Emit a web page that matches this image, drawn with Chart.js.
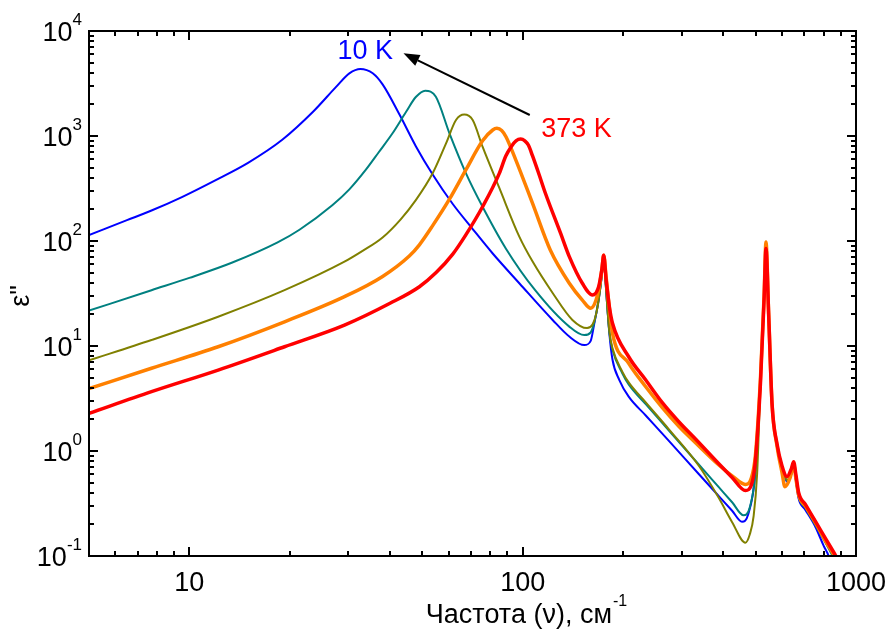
<!DOCTYPE html>
<html>
<head>
  <title>Диэлектрические потери</title>
  <style>
    body {
      margin: 0;
      padding: 0;
      background-color: #fff;
    }
    canvas {
      display: block;
    }
  </style>
</head>
<body>
  <canvas id="eps-chart" width="889" height="629"></canvas>

  <script src="https://cdn.jsdelivr.net/npm/chart.js"></script>
  <script>
    // eps'' spectra, frequency in cm^-1
    const nu10K = [5, 6.5, 7.7, 9.5, 12, 15, 19, 23.5, 27.6, 30.2, 32.6, 35.5, 38, 42.7, 47.8, 53.7, 61.7, 70.8, 81.3, 97.7, 123, 138, 153, 160, 164, 169, 173, 175, 178, 182, 186, 195, 208, 234, 275, 338, 387, 425, 455, 475, 499, 517, 530, 537, 547, 560, 580, 600, 621, 640, 650, 660, 673, 705, 755, 800, 828, 845];
    const eps10K = [114, 158, 195, 262, 380, 555, 920, 1700, 2950, 3950, 4350, 3955, 3100, 1600, 800, 430, 225, 130, 76, 39.6, 17.7, 12.3, 10.2, 11.2, 16.4, 27.4, 49, 73, 34, 13.2, 7.4, 4.74, 3.29, 2.18, 1.24, 0.6, 0.374, 0.27, 0.212, 0.25, 0.62, 4.5, 29, 90, 20, 2.8, 1.15, 0.72, 0.51, 0.6, 0.72, 0.52, 0.35, 0.275, 0.19, 0.125, 0.1, 0.08];

    const nuT2 = [5, 7.7, 10, 13.4, 18.4, 21.4, 26.9, 30.2, 33.9, 37, 40.7, 44.7, 47.8, 51, 54.9, 60.3, 67.6, 75.8, 89, 109, 138, 153, 160, 164, 169, 173, 175, 178, 182, 186, 199, 208, 234, 275, 338, 387, 425, 460, 480, 499, 517, 530, 537, 547, 560, 580, 600, 621, 640, 650, 660, 673, 705, 755, 809, 850, 870];
    const epsT2 = [21.7, 34, 44.5, 62, 97, 128, 220, 310, 480, 700, 1061, 1700, 2350, 2700, 2366, 1061, 441, 212, 85, 34, 15.3, 12.7, 13.5, 16.8, 28, 49, 73, 34, 13.5, 9.2, 5.5, 4.3, 2.79, 1.56, 0.74, 0.455, 0.325, 0.244, 0.29, 0.62, 4.5, 29, 92, 20, 2.8, 1.15, 0.72, 0.52, 0.62, 0.75, 0.54, 0.367, 0.29, 0.2, 0.135, 0.1, 0.085];

    const nuT3 = [5, 7.7, 12.2, 19.3, 29.2, 33, 38, 43, 47.8, 53.7, 58.9, 63.1, 66.8, 70.8, 75.8, 85.1, 97.7, 107, 123, 141, 156, 162, 166, 170, 173, 175, 178, 182, 186, 199, 208, 234, 275, 338, 387, 425, 466, 480, 493, 505, 517, 530, 537, 547, 560, 580, 600, 621, 640, 650, 660, 673, 705, 755, 809, 855, 875];
    const epsT3 = [7.3, 11.4, 19, 34, 63.5, 80, 108, 160, 245, 441, 850, 1419, 1600, 1419, 791, 320, 110, 64, 32, 17.7, 14.8, 16, 20, 31, 50, 73, 34, 13.8, 9.5, 5.7, 4.5, 2.9, 1.6, 0.72, 0.36, 0.21, 0.134, 0.16, 0.24, 0.6, 4.5, 29, 95, 20, 2.8, 1.15, 0.72, 0.53, 0.63, 0.76, 0.55, 0.37, 0.29, 0.2, 0.136, 0.1, 0.085];

    const nuT4 = [5, 7.7, 12.2, 19.3, 29.2, 38, 45.7, 49, 53.7, 60.3, 67.6, 75.8, 81.3, 83.7, 86.5, 89.1, 95.4, 107, 121, 138, 151, 160, 166, 170, 173, 175, 178, 182, 186, 208, 234, 262, 294, 330, 387, 425, 466, 485, 499, 517, 530, 537, 547, 560, 580, 600, 612, 635, 650, 660, 673, 705, 755, 809, 862, 880];
    const epsT4 = [3.93, 6.14, 9.84, 17, 29.5, 46, 72, 92, 140, 250, 478, 900, 1141, 1184, 1130, 984, 590, 229, 82, 39.6, 27.4, 22.9, 27.4, 38, 55, 73, 45, 23, 13.2, 6.84, 4.09, 2.6, 1.72, 1.2, 0.74, 0.58, 0.48, 0.55, 0.9, 5, 30, 98, 20, 2.8, 1.1, 0.62, 0.457, 0.56, 0.75, 0.55, 0.38, 0.3, 0.21, 0.14, 0.1, 0.085];

    const nu373K = [5, 7.7, 12.2, 19.3, 29.2, 40, 49, 55, 61.7, 67.6, 75.8, 85.1, 89, 92.6, 95.5, 98.6, 101.5, 104, 107, 112, 117, 130, 138, 151, 162, 169, 173, 175, 178, 182, 186, 208, 234, 262, 294, 330, 387, 425, 466, 485, 499, 517, 530, 537, 547, 560, 580, 600, 621, 640, 650, 660, 673, 705, 755, 809, 870, 895];
    const eps373K = [2.28, 3.67, 5.9, 9.84, 15.8, 25.5, 36.7, 50, 75, 115, 212, 441, 645, 800, 900, 936, 900, 820, 650, 430, 285, 118, 71, 39.6, 30.6, 36.7, 55, 73, 42.5, 23.7, 16.5, 7.9, 4.74, 2.9, 1.9, 1.3, 0.76, 0.56, 0.42, 0.47, 0.8, 4.5, 28, 85, 20, 2.8, 1.15, 0.72, 0.57, 0.68, 0.79, 0.6, 0.4, 0.31, 0.215, 0.148, 0.1, 0.085];

    const xTickLabels = [10, 100, 1000];
    const yTickExponents = [-1, 0, 1, 2, 3, 4];

    const curves = [
      { nu: nu10K, eps: eps10K, color: '#0000ff', width: 2 },
      { nu: nuT2, eps: epsT2, color: '#008080', width: 2 },
      { nu: nuT3, eps: epsT3, color: '#808000', width: 2 },
      { nu: nuT4, eps: epsT4, color: '#ff8000', width: 3.5 },
      { nu: nu373K, eps: eps373K, color: '#ff0000', width: 3.5 }
    ];

    const FONT = '"Liberation Sans", Arial, sans-serif';

    // frame, inward ticks, labels and the temperature arrow
    const framePlugin = {
      id: 'frame',
      afterDatasetsDraw(chart) {
        const { ctx, chartArea: a, scales: { x, y } } = chart;
        ctx.save();
        ctx.strokeStyle = '#000';
        ctx.fillStyle = '#000';
        ctx.lineWidth = 2;

        // minor/major ticks on all four sides
        for (let d = 0; d <= 2; d++) {
          for (let m = 1; m <= 9; m++) {
            const v = m * Math.pow(10, d);
            if (v < 5 || v > 1000) continue;
            const px = Math.round(x.getPixelForValue(v));
            const len = m === 1 ? 9 : 5;
            ctx.beginPath();
            ctx.moveTo(px, a.bottom); ctx.lineTo(px, a.bottom - len);
            ctx.moveTo(px, a.top); ctx.lineTo(px, a.top + len);
            ctx.stroke();
          }
        }
        for (let d = -1; d <= 3; d++) {
          for (let m = 1; m <= 9; m++) {
            const v = m * Math.pow(10, d);
            const py = Math.round(y.getPixelForValue(v));
            const len = m === 1 ? 9 : 5;
            ctx.beginPath();
            ctx.moveTo(a.left, py); ctx.lineTo(a.left + len, py);
            ctx.moveTo(a.right, py); ctx.lineTo(a.right - len, py);
            ctx.stroke();
          }
        }
        ctx.strokeRect(a.left, a.top, a.right - a.left, a.bottom - a.top);

        // y tick labels 10^n
        ctx.textAlign = 'left';
        ctx.textBaseline = 'alphabetic';
        yTickExponents.forEach(e => {
          const py = y.getPixelForValue(Math.pow(10, e));
          ctx.font = '27px ' + FONT;
          const wb = ctx.measureText('10').width;
          ctx.font = '17px ' + FONT;
          const sup = String(e);
          const ws = ctx.measureText(sup).width;
          const right = 82;
          ctx.font = '27px ' + FONT;
          ctx.fillText('10', right - ws - wb, py + 10);
          ctx.font = '17px ' + FONT;
          ctx.fillText(sup, right - ws, py - 6);
        });

        // x tick labels
        ctx.font = '27px ' + FONT;
        ctx.textAlign = 'center';
        xTickLabels.forEach(v => {
          ctx.fillText(String(v), x.getPixelForValue(v), 591);
        });

        // x title with superscript
        const title = 'Частота (ν), см';
        ctx.font = '27px ' + FONT;
        const wt = ctx.measureText(title).width;
        ctx.font = '16px ' + FONT;
        const wsup = ctx.measureText('-1').width;
        const left = 526 - (wt + wsup) / 2;
        ctx.textAlign = 'left';
        ctx.font = '27px ' + FONT;
        ctx.fillText(title, left, 623);
        ctx.font = '16px ' + FONT;
        ctx.fillText('-1', left + wt + 1, 606);

        // y title
        ctx.save();
        ctx.translate(22, 296);
        ctx.rotate(-Math.PI / 2);
        ctx.font = '27px ' + FONT;
        ctx.textAlign = 'center';
        ctx.textBaseline = 'middle';
        ctx.fillText('ε"', 0, 0);
        ctx.restore();

        // temperature labels and arrow
        ctx.font = '27px ' + FONT;
        ctx.textAlign = 'center';
        ctx.textBaseline = 'middle';
        ctx.fillStyle = '#0000ff';
        ctx.fillText('10 K', x.getPixelForValue(33.7), y.getPixelForValue(6350));
        ctx.fillStyle = '#ff0000';
        ctx.fillText('373 K', x.getPixelForValue(145), y.getPixelForValue(1153));

        const x0 = x.getPixelForValue(105), y0 = y.getPixelForValue(1585);
        const x1 = x.getPixelForValue(43.9), y1 = y.getPixelForValue(6135);
        const ang = Math.atan2(y1 - y0, x1 - x0);
        const headLen = 16, headW = 6;
        const bx = x1 - headLen * Math.cos(ang), by = y1 - headLen * Math.sin(ang);
        ctx.strokeStyle = '#000';
        ctx.fillStyle = '#000';
        ctx.lineWidth = 2;
        ctx.beginPath();
        ctx.moveTo(x0, y0);
        ctx.lineTo(bx, by);
        ctx.stroke();
        ctx.beginPath();
        ctx.moveTo(x1, y1);
        ctx.lineTo(bx + headW * Math.sin(ang), by - headW * Math.cos(ang));
        ctx.lineTo(bx - headW * Math.sin(ang), by + headW * Math.cos(ang));
        ctx.closePath();
        ctx.fill();

        ctx.restore();
      }
    };

    const datasets = curves.map((c, i) => ({
      data: c.nu.map((v, k) => ({ x: v, y: c.eps[k] })),
      borderColor: c.color,
      borderWidth: c.width,
      pointRadius: 0,
      cubicInterpolationMode: 'monotone',
      fill: false,
      order: curves.length - i
    }));

    new Chart(document.getElementById('eps-chart'), {
      type: 'line',
      data: { datasets },
      options: {
        responsive: false,
        animation: false,
        layout: { padding: { left: 89, right: 33, top: 31, bottom: 73 } },
        plugins: {
          legend: { display: false },
          tooltip: { enabled: false }
        },
        scales: {
          x: { type: 'logarithmic', min: 5, max: 1000, display: false },
          y: { type: 'logarithmic', min: 0.1, max: 10000, display: false }
        }
      },
      plugins: [framePlugin]
    });
  </script>
</body>
</html>
